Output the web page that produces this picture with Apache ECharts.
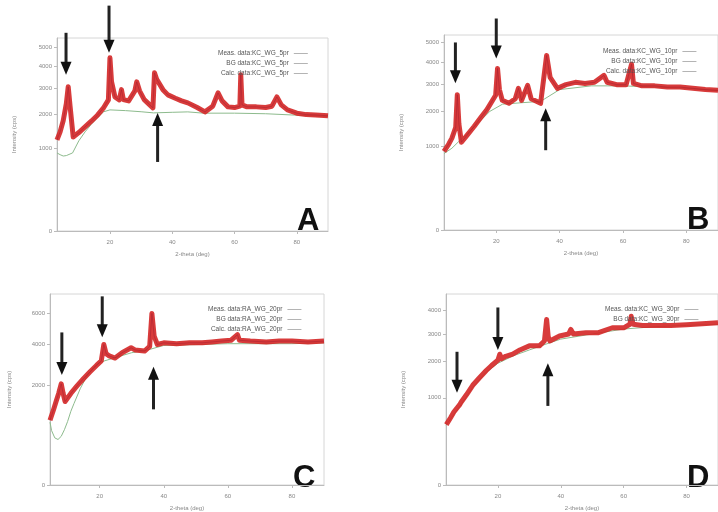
<!DOCTYPE html>
<html>
<head>
<meta charset="utf-8">
<script src="https://cdn.jsdelivr.net/npm/echarts@6/dist/echarts.min.js"></script>
<style>
  html, body { margin: 0; padding: 0; background: #fff; }
  #chart { width: 718px; height: 512px; }
</style>
</head>
<body>
<div id="chart"></div>
<script>
// 2-theta ticks, same on every panel
const thetaTicks = [20, 40, 60, 80];

// intensity ticks (cps), axis is square-root scaled
const ticksA = [0, 1000, 2000, 3000, 4000, 5000];
const ticksB = [0, 1000, 2000, 3000, 4000, 5000];
const ticksC = [0, 2000, 4000, 6000];
const ticksD = [0, 1000, 2000, 3000, 4000];

// measured data [2theta, cps]
const measA = [[3,1225],[4,1450],[5,1800],[6,2400],[6.6,3068],[7.2,2300],[8.2,1307],[10,1430],[12,1600],[14,1780],[16,1980],[18,2250],[19.5,2539],[20,4427],[20.5,3300],[21.6,2656],[23,2540],[23.7,2950],[24.3,2550],[26,2500],[28,2900],[28.6,3284],[29.5,2900],[31,2550],[33.8,2238],[34.3,3693],[35,3400],[37,2950],[38.6,2736],[41,2600],[43,2500],[45,2424],[48,2250],[50.5,2095],[53,2300],[54.7,2817],[56,2500],[57.9,2275],[60,2250],[61.7,2300],[62,3600],[62.4,2350],[64,2275],[67,2275],[70,2250],[72,2300],[73.6,2656],[75,2350],[77,2166],[80,2050],[83,2000],[86,1990],[90,1960]];
const measB = [[3.5,880],[5,1050],[6,1200],[7.2,1500],[7.7,2600],[8.2,1600],[9,1094],[11,1300],[13,1520],[15,1780],[17,2050],[19.8,2576],[20.4,3709],[21,2800],[21.9,2388],[24,2280],[26,2450],[27,2850],[28,2388],[29.9,2971],[31,2450],[34,2280],[35.9,4328],[37,3308],[39.3,2850],[42,3000],[45,3096],[48,3050],[51,3096],[54,3395],[55,3100],[58,3000],[61,3000],[62.7,3900],[63.3,3050],[66,2950],[70,2950],[74,2900],[78,2900],[82,2850],[86,2800],[90,2770]];
const measC = [[4.5,850],[5.6,1150],[6.4,1414],[7.2,1700],[8,2077],[8.6,1700],[9.2,1414],[11,1700],[13,2000],[15,2300],[17,2600],[19,2900],[20.5,3122],[21.3,4004],[22,3500],[23,3377],[24.8,3270],[27,3550],[29.8,3820],[31,3700],[34,3637],[35.6,3900],[36.3,5972],[37,4500],[38,4004],[40,4100],[44,4050],[48,4100],[52,4100],[55,4150],[58,4200],[61,4250],[63,4583],[63.6,4250],[67,4200],[72,4150],[76,4200],[80,4200],[85,4150],[90,4200]];
const measD = [[3.6,480],[5,600],[6,700],[7,780],[7.8,843],[8.3,900],[10,1070],[12,1309],[14,1500],[16.3,1725],[18,1880],[20,2050],[20.6,2250],[21.2,2100],[22.5,2180],[24.7,2256],[27,2400],[30,2547],[33.2,2547],[34.8,2730],[35.5,3600],[36,2900],[36.5,2730],[39.6,2920],[42.5,3000],[43.2,3184],[44,3000],[48,3052],[52,3052],[56.4,3253],[60,3250],[62,3400],[62.4,3743],[63,3400],[66,3348],[70,3348],[75,3350],[80,3380],[85,3420],[90,3460]];

// background [2theta, cps]
const bkgA = [[3,900],[4,860],[5,830],[6,840],[8,900],[10,1200],[12,1450],[14,1680],[16,1900],[18,2100],[20,2166],[25,2140],[30,2100],[34,2060],[40,2080],[45,2095],[50,2050],[60,2050],[70,2030],[80,1980],[90,1940]];
const bkgB = [[3.5,830],[6,950],[8,1100],[10,1250],[14,1600],[18,2000],[22,2250],[28,2300],[34,2350],[40,2800],[50,2950],[60,2950],[70,2900],[80,2850],[90,2750]];
const bkgC = [[4.5,800],[5,600],[6,450],[7,420],[8,480],[9,620],[10,820],[11,1101],[12,1350],[14,1900],[16,2400],[18,2800],[20,3050],[24,3250],[30,3550],[35,3700],[40,3950],[50,4000],[60,4050],[70,4050],[80,4050],[90,4100]];
const bkgD = [[3.5,470],[8,820],[12,1250],[16,1650],[20,1950],[25,2200],[30,2400],[35,2600],[40,2800],[50,3000],[60,3200],[70,3300],[80,3350],[90,3400]];

// arrows [2theta, tail cps, tip cps]
const arrowsA = [[5.9,5800,3600],[19.7,7500,4687],[35.3,704,2060]];
const arrowsB = [[7.1,4995,3054],[20,6352,4181],[35.6,904,2104]];
const arrowsC = [[8.2,4722,2456],[20.8,7218,4423],[36.8,1161,2834]];
const arrowsD = [[7,2335,1120],[20,4147,2394],[35.9,823,1952]];

const legendA = ['Meas. data:KC_WG_5pr', 'BG data:KC_WG_5pr', 'Calc. data:KC_WG_5pr'];
const legendB = ['Meas. data:KC_WG_10pr', 'BG data:KC_WG_10pr', 'Calc. data:KC_WG_10pr'];
const legendC = ['Meas. data:RA_WG_20pr', 'BG data:RA_WG_20pr', 'Calc. data:RA_WG_20pr'];
const legendD = ['Meas. data:KC_WG_30pr', 'BG data:KC_WG_30pr'];

const panels = [
  { tag: 'A', left: 57, top: 38, width: 271, height: 193, xMin: 3, yMax: 5500, meas: measA, bkg: bkgA, ticks: ticksA, arrows: arrowsA, names: legendA, legLeft: 218, legTop: 50, nameGap: 40 },
  { tag: 'B', left: 444, top: 35, width: 274, height: 195, xMin: 3.5, yMax: 5400, meas: measB, bkg: bkgB, ticks: ticksB, arrows: arrowsB, names: legendB, legLeft: 603, legTop: 48, nameGap: 40 },
  { tag: 'C', left: 50, top: 294, width: 274, height: 194, xMin: 4.5, yMax: 7400, meas: measC, bkg: bkgC, ticks: ticksC, arrows: arrowsC, names: legendC, legLeft: 208, legTop: 306, nameGap: 38 },
  { tag: 'D', left: 446, top: 294, width: 272, height: 194, xMin: 3.5, yMax: 4800, meas: measD, bkg: bkgD, ticks: ticksD, arrows: arrowsD, names: legendD, legLeft: 605, legTop: 306, nameGap: 40 }
];

const sq = pts => pts.map(p => [p[0], Math.sqrt(p[1])]);
const small = { fontSize: 6, color: '#888', fontFamily: 'Liberation Sans' };

// arrow: shaft plus triangular head, placed through the axis scales
const renderArrow = (params, api) => {
  const tail = api.coord([api.value(0), api.value(1)]);
  const tip = api.coord([api.value(0), api.value(2)]);
  const dir = tip[1] > tail[1] ? 1 : -1;
  const headLen = 13, headW = 5.5;
  const base = tip[1] - dir * headLen;
  return {
    type: 'group',
    children: [
      { type: 'line', shape: { x1: tail[0], y1: tail[1], x2: tip[0], y2: base + dir }, style: { stroke: '#222', lineWidth: 3 } },
      { type: 'polygon', shape: { points: [[tip[0] - headW, base], [tip[0] + headW, base], [tip[0], tip[1]]] }, style: { fill: '#111' } }
    ]
  };
};

const grid = [], xAxis = [], yAxis = [], series = [], legend = [], graphic = [];

panels.forEach((p, i) => {
  grid.push({ left: p.left, top: p.top, width: p.width, height: p.height, show: true, borderColor: '#d6d6d6', borderWidth: 1 });
  xAxis.push({
    type: 'value', gridIndex: i, min: p.xMin, max: 90,
    name: '2-theta (deg)', nameLocation: 'middle', nameGap: 20, nameTextStyle: small,
    axisLine: { lineStyle: { color: '#bbb' } },
    axisTick: { customValues: thetaTicks, length: 3, lineStyle: { color: '#bbb' } },
    axisLabel: Object.assign({ customValues: thetaTicks, margin: 8 }, small),
    splitLine: { show: false }
  });
  const yt = p.ticks.map(Math.sqrt);
  yAxis.push({
    type: 'value', gridIndex: i, min: 0, max: Math.sqrt(p.yMax),
    name: 'Intensity (cps)', nameLocation: 'middle', nameGap: p.nameGap, nameTextStyle: small,
    axisLine: { show: true, lineStyle: { color: '#bbb' } },
    axisTick: { show: true, customValues: yt, length: 3, lineStyle: { color: '#bbb' } },
    axisLabel: Object.assign({ customValues: yt, margin: 5, formatter: v => String(Math.round(v * v)) }, small),
    splitLine: { show: false }
  });
  series.push({
    name: p.names[1], type: 'line', xAxisIndex: i, yAxisIndex: i, data: sq(p.bkg),
    showSymbol: false, symbol: 'none', clip: false, z: 2,
    lineStyle: { color: '#8dbb8d', width: 1 }, color: '#8dbb8d'
  });
  series.push({
    name: p.names[0], type: 'line', xAxisIndex: i, yAxisIndex: i, data: sq(p.meas),
    showSymbol: false, symbol: 'none', clip: false, z: 3,
    lineStyle: { color: '#d42626', width: 5, opacity: 0.9, join: 'round' }, color: '#d42626'
  });
  if (p.names[2]) {
    series.push({
      name: p.names[2], type: 'line', xAxisIndex: i, yAxisIndex: i, data: sq(p.meas),
      showSymbol: false, symbol: 'none', clip: false, z: 4,
      lineStyle: { color: '#9b1a2e', width: 0.8, opacity: 0.55 }, color: '#9b1a2e'
    });
  }
  series.push({
    type: 'custom', xAxisIndex: i, yAxisIndex: i, clip: false, silent: true, z: 10,
    data: p.arrows.map(a => [a[0], Math.sqrt(a[1]), Math.sqrt(a[2])]),
    encode: { x: 0, y: [1, 2] },
    renderItem: renderArrow
  });
  legend.push({
    data: p.names.map(n => ({ name: n, icon: 'rect', itemStyle: { color: '#b4b4b4' } })),
    orient: 'vertical', left: p.legLeft, top: p.legTop, align: 'right', padding: 0,
    itemWidth: 14, itemHeight: 1, itemGap: 3, selectedMode: false,
    textStyle: { fontSize: 6.5, color: '#555', fontFamily: 'Liberation Sans' }
  });
  graphic.push({
    type: 'text', left: p.left + p.width - 31, top: p.top + p.height - 25,
    style: { text: p.tag, font: 'bold 31px "Liberation Sans", Arial, sans-serif', fill: '#111' }
  });
});

const chart = echarts.init(document.getElementById('chart'), null, { renderer: 'canvas' });
chart.setOption({
  animation: false,
  backgroundColor: '#fff',
  grid, xAxis, yAxis, series, legend, graphic
});
</script>
</body>
</html>
